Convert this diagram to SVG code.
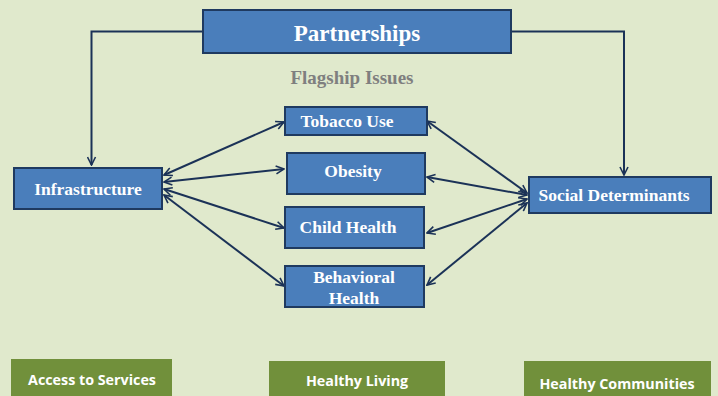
<svg xmlns="http://www.w3.org/2000/svg" width="718" height="396" viewBox="0 0 718 396">
<style>
.box{fill:#4a7ebb;stroke:#1f3a60;stroke-width:2}
.t{font-family:"Liberation Serif",serif;font-weight:bold;fill:#fff;text-anchor:middle;font-size:17.5px}
.g{fill:#71903b}
.gt{font-family:"Open Sans","Liberation Sans",sans-serif;font-weight:bold;fill:#fff;text-anchor:middle;font-size:14.3px}
.c{stroke:#1b3257;stroke-width:2;fill:none}
</style>
<defs>
<marker id="a" viewBox="0 0 10 10" refX="9" refY="5" markerWidth="5" markerHeight="5" orient="auto-start-reverse" markerUnits="strokeWidth">
<path d="M1,1 L9,5 L1,9" fill="none" stroke="#1b3257" stroke-width="1.6"/>
</marker>
</defs>
<rect width="718" height="396" fill="#e0e9cc"/>
<g id="connectors">
<polyline class="c" points="203,31.5 91.5,31.5 91.5,165" marker-end="url(#a)"/>
<polyline class="c" points="511,31.5 624,31.5 624,175" marker-end="url(#a)"/>
<line class="c" x1="164" y1="175" x2="284" y2="122" marker-start="url(#a)" marker-end="url(#a)"/>
<line class="c" x1="164" y1="182" x2="284" y2="169" marker-start="url(#a)" marker-end="url(#a)"/>
<line class="c" x1="164" y1="189" x2="284" y2="228" marker-start="url(#a)" marker-end="url(#a)"/>
<line class="c" x1="164" y1="195" x2="284" y2="286" marker-start="url(#a)" marker-end="url(#a)"/>
<line class="c" x1="427" y1="121" x2="527" y2="193" marker-start="url(#a)" marker-end="url(#a)"/>
<line class="c" x1="427" y1="177" x2="527" y2="195" marker-start="url(#a)" marker-end="url(#a)"/>
<line class="c" x1="427" y1="233" x2="527" y2="199" marker-start="url(#a)" marker-end="url(#a)"/>
<line class="c" x1="427" y1="285" x2="527" y2="203" marker-start="url(#a)" marker-end="url(#a)"/>
</g>
<g id="partnerships">
<rect class="box" x="203" y="10" width="308" height="43" stroke="#2c5a8c"/>
<text class="t" x="357" y="41" style="font-size:23px">Partnerships</text>
</g>
<g id="flagship">
<text x="352" y="84" font-family="Liberation Serif,serif" font-weight="bold" font-size="19" fill="#7f7f7f" text-anchor="middle">Flagship Issues</text>
</g>
<g id="tobacco">
<rect class="box" x="285" y="107" width="142" height="28"/>
<text class="t" x="347" y="127">Tobacco Use</text>
</g>
<g id="obesity">
<rect class="box" x="287" y="153" width="138" height="41"/>
<text class="t" x="353" y="177">Obesity</text>
</g>
<g id="child">
<rect class="box" x="285" y="207" width="139" height="41"/>
<text class="t" x="348" y="233">Child Health</text>
</g>
<g id="behavioral">
<rect class="box" x="285" y="266" width="139" height="41"/>
<text class="t" x="354" y="283">Behavioral</text>
<text class="t" x="354" y="304">Health</text>
</g>
<g id="infrastructure">
<rect class="box" x="14" y="168" width="148" height="41"/>
<text class="t" x="88" y="195">Infrastructure</text>
</g>
<g id="social">
<rect class="box" x="529" y="177" width="182" height="36"/>
<text class="t" x="614" y="201">Social Determinants</text>
</g>
<g id="access">
<rect class="g" x="11" y="359" width="161" height="37"/>
<text class="gt" x="92" y="385">Access to Services</text>
</g>
<g id="living">
<rect class="g" x="269" y="361" width="176" height="35"/>
<text class="gt" x="357" y="386">Healthy Living</text>
</g>
<g id="communities">
<rect class="g" x="524" y="361" width="187" height="35"/>
<text class="gt" x="617" y="389">Healthy Communities</text>
</g>
</svg>
